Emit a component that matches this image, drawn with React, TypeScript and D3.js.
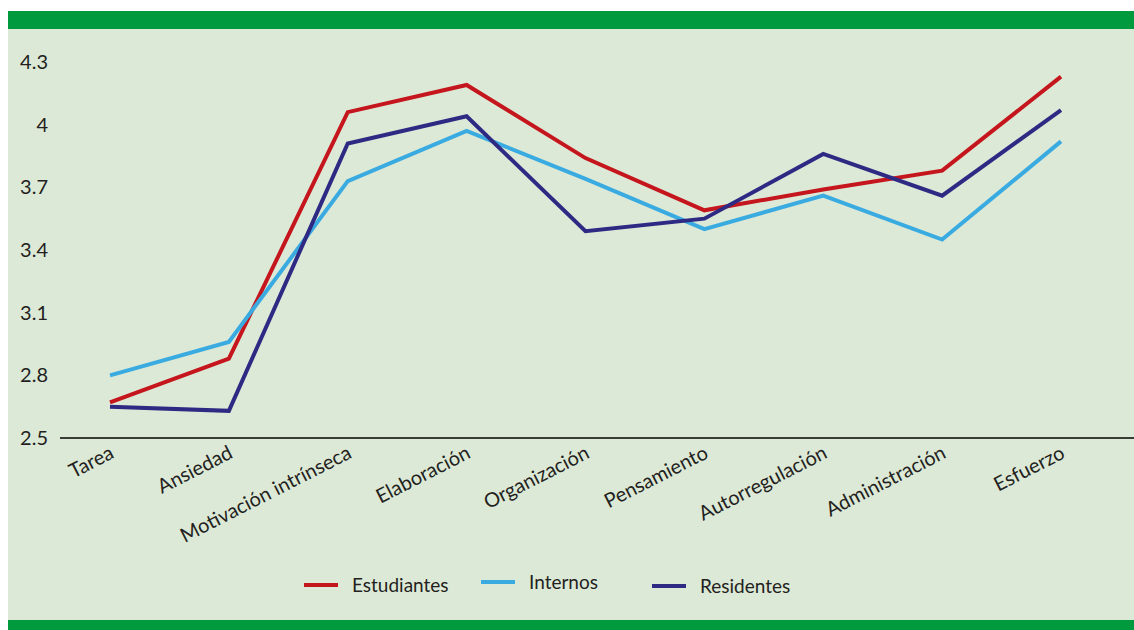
import React, { useEffect, useRef } from 'react';
import * as d3 from 'd3';

const categories = ['Tarea', 'Ansiedad', 'Motivación intrínseca', 'Elaboración', 'Organización', 'Pensamiento', 'Autorregulación', 'Administración', 'Esfuerzo'];
const estudiantes = [2.67, 2.88, 4.06, 4.19, 3.84, 3.59, 3.69, 3.78, 4.23];
const internos = [2.80, 2.96, 3.73, 3.97, 3.74, 3.50, 3.66, 3.45, 3.92];
const residentes = [2.65, 2.63, 3.91, 4.04, 3.49, 3.55, 3.86, 3.66, 4.07];
const yTicks = [2.5, 2.8, 3.1, 3.4, 3.7, 4, 4.3];

const series = [
  { name: 'Estudiantes', values: estudiantes, color: '#c4161c' },
  { name: 'Internos', values: internos, color: '#3aabe1' },
  { name: 'Residentes', values: residentes, color: '#2e2a84' },
];

export default function App() {
  const ref = useRef<SVGSVGElement>(null);

  useEffect(() => {
    const svg = d3.select(ref.current);
    svg.selectAll('*').remove();
    const font = 'Lato, "Open Sans", sans-serif';

    // background + green bands
    svg.append('rect').attr('x', 8).attr('y', 29).attr('width', 1126).attr('height', 591).attr('fill', '#dde9d7');
    svg.append('rect').attr('x', 8).attr('y', 11).attr('width', 1126).attr('height', 18).attr('fill', '#009a3e');
    svg.append('rect').attr('x', 8).attr('y', 620).attr('width', 1126).attr('height', 10).attr('fill', '#009a3e');

    const x = d3.scalePoint<string>().domain(categories).range([110, 1061]);
    const y = d3.scaleLinear().domain([2.5, 4.3]).range([438, 62]);

    // y tick labels
    svg.append('g')
      .selectAll('text')
      .data(yTicks)
      .join('text')
      .attr('x', 48)
      .attr('y', (d) => y(d))
      .attr('dy', '0.35em')
      .attr('text-anchor', 'end')
      .style('font', `20px ${font}`)
      .attr('fill', '#231f20')
      .text((d) => String(d));

    // x axis line
    svg.append('line')
      .attr('x1', 60).attr('x2', 1134)
      .attr('y1', y(2.5)).attr('y2', y(2.5))
      .attr('stroke', '#000').attr('stroke-width', 1.5);

    // x labels, rotated
    svg.append('g')
      .selectAll('text')
      .data(categories)
      .join('text')
      .attr('transform', (d) => `translate(${(x(d) as number) + 2},${y(2.5) + 13}) rotate(-27)`)
      .attr('text-anchor', 'end')
      .attr('dy', '0.35em')
      .style('font', `20px ${font}`)
      .attr('fill', '#231f20')
      .text((d) => d);

    const line = d3.line<number>()
      .x((_, i) => x(categories[i]) as number)
      .y((d) => y(d));

    svg.append('g')
      .selectAll('path')
      .data(series)
      .join('path')
      .attr('d', (s) => line(s.values))
      .attr('fill', 'none')
      .attr('stroke', (s) => s.color)
      .attr('stroke-width', 4)
      .attr('stroke-linejoin', 'miter');

    // legend
    const legendX = [304, 481, 652];
    const legendY = [585, 582, 586];
    const lg = svg.append('g')
      .selectAll('g')
      .data(series)
      .join('g')
      .attr('transform', (_, i) => `translate(${legendX[i]},${legendY[i]})`);
    lg.append('line')
      .attr('x1', 0).attr('x2', 34)
      .attr('stroke', (s) => s.color).attr('stroke-width', 4);
    lg.append('text')
      .attr('x', 48)
      .attr('dy', '0.35em')
      .style('font', `19px ${font}`)
      .attr('fill', '#231f20')
      .text((s) => s.name);
  }, []);

  return (
    <svg ref={ref} width={1134} height={630} style={{ position: 'absolute', left: 0, top: 0, background: '#fff' }} />
  );
}
